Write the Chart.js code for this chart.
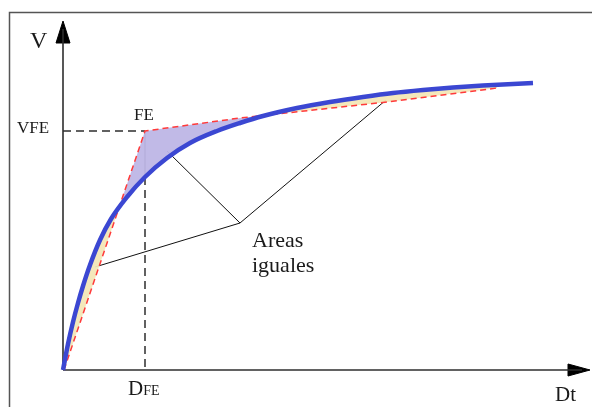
<!DOCTYPE html>
<html>
<head>
<meta charset="utf-8">
<script src="https://cdn.jsdelivr.net/npm/chart.js@4.4.1/dist/chart.umd.min.js"></script>
<style>
  html, body { margin: 0; padding: 0; background: #ffffff; }
  canvas { display: block; }
</style>
</head>
<body>
<canvas id="c" width="592" height="407"></canvas>
<script>
// Curve V(Dt) (units: horizontal = Dt, vertical = V)
const curveDt = [0, 5, 10, 15, 20, 27, 37, 48, 64, 82, 104, 127, 154, 177, 200, 234, 267, 300, 330, 360, 390, 420, 450, 470];
const curveV  = [0, 26, 48, 67, 84, 105, 130, 151, 173, 193, 212, 227, 239, 247, 254, 262, 268, 273, 277, 280, 282.5, 284.5, 286, 287];

// Red dashed equal-area approximation (polyline)
const approxDt = [1, 82, 177, 324, 434];
const approxV  = [0, 239, 252, 268, 282];

// Point FE
const feDt = 82;
const feV = 239;
const feCurveV = 193;   // where the vertical through DFE meets the curve

// Leader lines to "Areas iguales"
const leaderJoin = {x: 177, y: 147};
const leaderEnds = [{x: 104, y: 219}, {x: 32, y: 103}, {x: 323, y: 270}];

// Axes extents
const axisDtMax = 527;
const axisVMax = 349;

const toPts = (xs, ys) => xs.map((x, i) => ({x: x, y: ys[i]}));

const BLUE = '#3b47d2';
const RED = '#ff3a3a';
const DARK = '#2e2e2e';

const datasets = [
  { // 0: curve (drawn on top)
    data: toPts(curveDt, curveV),
    borderColor: BLUE, borderWidth: 4.5, cubicInterpolationMode: 'monotone', fill: false
  },
  { // 1: approximation, filled against the curve
    data: toPts(approxDt, approxV),
    borderColor: RED, borderWidth: 1.5, borderDash: [6, 4],
    fill: {target: 0, above: 'rgba(190,182,230,0.95)', below: 'rgba(243,231,183,0.95)'}
  },
  { // 2: VFE horizontal dashed
    data: [{x: 0, y: feV}, {x: feDt, y: feV}],
    borderColor: DARK, borderWidth: 1.5, borderDash: [8, 5], fill: false
  },
  { // 3: vertical solid from FE to the curve
    data: [{x: feDt, y: feV}, {x: feDt, y: feCurveV}],
    borderColor: DARK, borderWidth: 1.5, fill: false
  },
  { // 4: vertical dashed down to DFE
    data: [{x: feDt, y: feCurveV}, {x: feDt, y: 0}],
    borderColor: DARK, borderWidth: 1.5, borderDash: [8, 5], fill: false
  },
  { // 5: V axis
    data: [{x: 0, y: 0}, {x: 0, y: axisVMax - 8}],
    borderColor: DARK, borderWidth: 1.6, fill: false
  },
  { // 6: Dt axis
    data: [{x: 0, y: 0}, {x: axisDtMax - 8, y: 0}],
    borderColor: DARK, borderWidth: 1.6, fill: false
  },
  { // 7: V arrowhead
    data: [{x: -7, y: axisVMax - 22}, {x: 0, y: axisVMax}, {x: 7, y: axisVMax - 22}, {x: -7, y: axisVMax - 22}],
    borderColor: '#000', backgroundColor: '#000', borderWidth: 1, fill: 'shape'
  },
  { // 8: Dt arrowhead
    data: [{x: axisDtMax - 22, y: 6}, {x: axisDtMax, y: 0}, {x: axisDtMax - 22, y: -6}, {x: axisDtMax - 22, y: 6}],
    borderColor: '#000', backgroundColor: '#000', borderWidth: 1, fill: 'shape'
  },
  { // 9: leader polyline
    data: [leaderEnds[0], leaderJoin, leaderEnds[2]],
    borderColor: '#111', borderWidth: 1, fill: false
  },
  { // 10: leader lower
    data: [leaderJoin, leaderEnds[1]],
    borderColor: '#111', borderWidth: 1, fill: false
  }
];
datasets.forEach(d => { d.showLine = true; d.pointRadius = 0; d.pointHoverRadius = 0; });

const textPlugin = {
  id: 'texts',
  beforeDraw(chart) {
    const ctx = chart.ctx;
    ctx.save();
    ctx.fillStyle = '#fff';
    ctx.fillRect(0, 0, chart.width, chart.height);
    ctx.strokeStyle = '#555';
    ctx.lineWidth = 1.5;
    ctx.beginPath();
    ctx.moveTo(9.5, chart.height + 5);
    ctx.lineTo(9.5, 12.5);
    ctx.lineTo(chart.width + 5, 12.5);
    ctx.stroke();
    ctx.restore();
  },
  afterDraw(chart) {
    const ctx = chart.ctx;
    const xs = chart.scales.x, ys = chart.scales.y;
    const X = v => xs.getPixelForValue(v);
    const Y = v => ys.getPixelForValue(v);
    ctx.save();
    ctx.fillStyle = '#1a1a1a';
    ctx.textBaseline = 'alphabetic';
    ctx.textAlign = 'left';
    const serif = '"Liberation Serif", "DejaVu Serif", serif';
    const put = (t, size, x, y) => { ctx.font = size + 'px ' + serif; ctx.fillText(t, x, y); return ctx.measureText(t).width; };
    // V axis label
    put('V', 24, X(-33), Y(322));
    // VFE
    put('VFE', 17, X(-46), Y(237));
    // FE
    put('FE', 17, X(feDt - 11), Y(250));
    // DFE
    let w = put('D', 21, X(feDt - 17), Y(-25));
    put('FE', 14, X(feDt - 17) + w, Y(-25));
    // Dt
    put('Dt', 21, X(492), Y(-31));
    // Areas iguales
    put('Areas', 22, X(189), Y(123));
    put('iguales', 22, X(189), Y(98));
    ctx.restore();
  }
};

new Chart(document.getElementById('c'), {
  type: 'scatter',
  data: { datasets: datasets },
  options: {
    responsive: false,
    animation: false,
    layout: { padding: 0 },
    plugins: { legend: { display: false }, tooltip: { enabled: false } },
    scales: {
      x: { type: 'linear', min: -63, max: 529, display: false },
      y: { type: 'linear', min: -37, max: 370, display: false }
    }
  },
  plugins: [textPlugin]
});
</script>
</body>
</html>
